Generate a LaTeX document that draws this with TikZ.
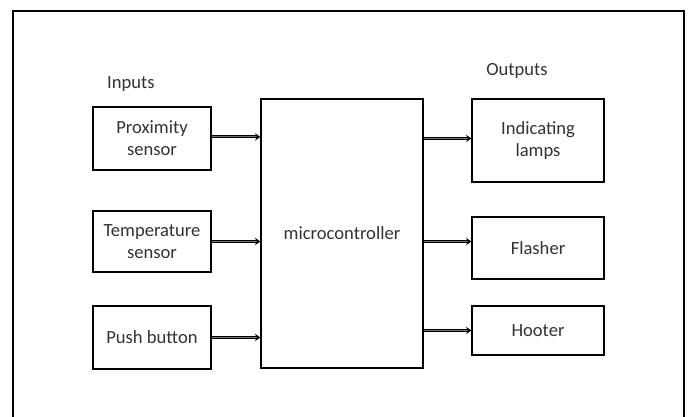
\documentclass[tikz,border=0pt]{standalone}
\usepackage{fontspec}
\setmainfont{Carlito}
\usetikzlibrary{arrows.meta}

\begin{document}
\begin{tikzpicture}[x=0.5pt, y=-0.5pt, >=Stealth,
    font=\fontsize{9.3}{11}\selectfont, text=black!80,
    block/.style={draw, line width=0.7pt, align=center, inner sep=0pt},
    sig/.style={-{Stealth[length=2.6pt, width=3.6pt]}, line width=0.5pt, double=black!55, double distance=0.6pt}]
    \useasboundingbox (0,0) rectangle (688,416);

    % Frame
    \draw[line width=0.8pt] (13,420) -- (13,11) -- (684,11) -- (684,420);

    % Headings
    \node (inputs) at (131,84) {Inputs};
    \node (outputs) at (517,71) {Outputs};

    % Inputs
    \node[block, minimum width=59pt, minimum height=31.5pt] (prox) at (152,138.5) {Proximity\\sensor};
    \node[block, minimum width=59pt, minimum height=30.5pt] (temp) at (152,241.5) {Temperature\\sensor};
    \node[block, minimum width=59pt, minimum height=31.5pt] (push) at (152,337.5) {Push button};

    % Controller
    \node[block, minimum width=81pt, minimum height=134.5pt] (micro) at (342,233.5) {\raisebox{-2pt}{microcontroller}};

    % Outputs
    \node[block, minimum width=66pt, minimum height=41.5pt] (lamps) at (538,140.5) {Indicating\\lamps};
    \node[block, minimum width=66pt, minimum height=31pt] (flasher) at (538,248) {Flasher};
    \node[block, minimum width=66pt, minimum height=24.5pt] (hooter) at (538,330.5) {Hooter};

    % Signals
    \draw[sig] ([yshift=0.8pt]prox.east) -- ([yshift=0.8pt]prox.east -| micro.west);
    \draw[sig] (temp.east) -- (temp.east -| micro.west);
    \draw[sig] (push.east) -- (push.east -| micro.west);
    \draw[sig] (micro.east |- prox.east) -- (lamps.west |- prox.east);
    \draw[sig] (micro.east |- temp.east) -- (flasher.west |- temp.east);
    \draw[sig] (micro.east |- hooter.west) -- (hooter.west);
\end{tikzpicture}
\end{document}
